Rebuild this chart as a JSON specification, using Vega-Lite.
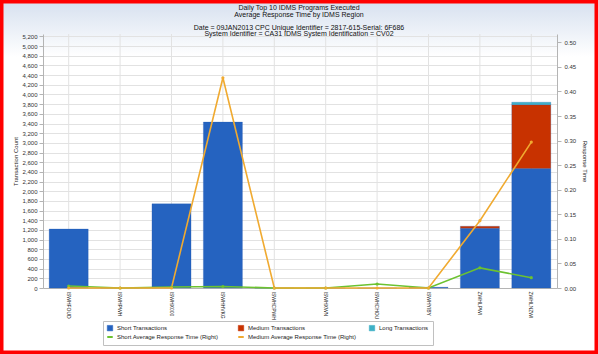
{
  "$schema": "https://vega.github.io/schema/vega-lite/v6.json",
  "width": 598,
  "height": 354,
  "padding": 0,
  "autosize": {"type": "none"},
  "background": "#ffffff",
  "config": {
    "font": "Liberation Sans",
    "view": {
      "stroke": "#ff0000",
      "strokeWidth": 7,
      "fill": {"gradient": "linear", "x1": 0, "y1": 0, "x2": 0, "y2": 1, "stops": [{"offset": 0, "color": "#d6e0ef"}, {"offset": 0.16, "color": "#ffffff"}]}
    },
    "axis": {
      "labelFont": "Liberation Sans",
      "labelFontSize": 6,
      "labelColor": "#333333",
      "titleFont": "Liberation Sans",
      "titleFontSize": 6,
      "titleFontWeight": "normal",
      "titleColor": "#222222",
      "domainColor": "#b4b4b4",
      "tickColor": "#b4b4b4",
      "gridColor": "#e2e2e2",
      "tickSize": 4
    },
    "legend": {
      "title": null,
      "orient": "none",
      "legendX": 103,
      "legendY": 321,
      "direction": "horizontal",
      "columns": 3,
      "gridAlign": "all",
      "columnPadding": 8,
      "rowPadding": 1,
      "labelFontSize": 6,
      "labelColor": "#222222",
      "labelLimit": 200,
      "symbolSize": 30,
      "padding": 4,
      "strokeColor": "#c0c0c0",
      "fillColor": "#ffffff"
    },
    "title": {"font": "Liberation Sans", "fontSize": 7, "fontWeight": "normal", "color": "#111111", "lineHeight": 6.5, "subtitleFont": "Liberation Sans", "subtitleFontSize": 7, "subtitleColor": "#111111", "subtitleLineHeight": 6.5}
  },
  "title": {
    "text": ["Daily Top 10 IDMS Programs Executed", "Average Response Time  by IDMS Region"],
    "subtitle": ["Date = 09JAN2013 CPC Unique Identifier = 2817-615-Serial: 6F686", "System Identifier = CA31  IDMS System Identification = CV02"],
    "anchor": "middle",
    "frame": "group",
    "orient": "top",
    "offset": -37,
    "subtitlePadding": 6
  },
  "datasets": {
    "programs": [
      {"program": "ISWHFOUD"}, {"program": "ISWHPWH"}, {"program": "ISWHX000"}, {"program": "ISWHHVKG"}, {"program": "ISWHCPWH"},
      {"program": "ISWHXWN"}, {"program": "ISWHCHOU"}, {"program": "ISWHYIBY"}, {"program": "ZWHLPWI"}, {"program": "ZWHLNZWI"}
    ],
    "bars": [
      {"program": "ISWHFOUD", "series": "Short Transactions", "ord": 1, "count": 1220},
      {"program": "ISWHPWH", "series": "Short Transactions", "ord": 1, "count": 0},
      {"program": "ISWHX000", "series": "Short Transactions", "ord": 1, "count": 1740},
      {"program": "ISWHHVKG", "series": "Short Transactions", "ord": 1, "count": 3430},
      {"program": "ISWHCPWH", "series": "Short Transactions", "ord": 1, "count": 0},
      {"program": "ISWHXWN", "series": "Short Transactions", "ord": 1, "count": 0},
      {"program": "ISWHCHOU", "series": "Short Transactions", "ord": 1, "count": 0},
      {"program": "ISWHYIBY", "series": "Short Transactions", "ord": 1, "count": 15},
      {"program": "ZWHLPWI", "series": "Short Transactions", "ord": 1, "count": 1235},
      {"program": "ZWHLPWI", "series": "Medium Transactions", "ord": 2, "count": 42},
      {"program": "ZWHLNZWI", "series": "Short Transactions", "ord": 1, "count": 2470},
      {"program": "ZWHLNZWI", "series": "Medium Transactions", "ord": 2, "count": 1320},
      {"program": "ZWHLNZWI", "series": "Long Transactions", "ord": 3, "count": 50}
    ],
    "lines": [
      {"program": "ISWHFOUD", "series": "Short Average Response Time (Right)", "rt": 0.004},
      {"program": "ISWHPWH", "series": "Short Average Response Time (Right)", "rt": 0.0},
      {"program": "ISWHX000", "series": "Short Average Response Time (Right)", "rt": 0.002},
      {"program": "ISWHHVKG", "series": "Short Average Response Time (Right)", "rt": 0.003},
      {"program": "ISWHCPWH", "series": "Short Average Response Time (Right)", "rt": 0.0},
      {"program": "ISWHXWN", "series": "Short Average Response Time (Right)", "rt": 0.0},
      {"program": "ISWHCHOU", "series": "Short Average Response Time (Right)", "rt": 0.008},
      {"program": "ISWHYIBY", "series": "Short Average Response Time (Right)", "rt": 0.0},
      {"program": "ZWHLPWI", "series": "Short Average Response Time (Right)", "rt": 0.041},
      {"program": "ZWHLNZWI", "series": "Short Average Response Time (Right)", "rt": 0.021},
      {"program": "ISWHFOUD", "series": "Medium Average Response Time (Right)", "rt": 0.0},
      {"program": "ISWHPWH", "series": "Medium Average Response Time (Right)", "rt": 0.0},
      {"program": "ISWHX000", "series": "Medium Average Response Time (Right)", "rt": 0.0},
      {"program": "ISWHHVKG", "series": "Medium Average Response Time (Right)", "rt": 0.428},
      {"program": "ISWHCPWH", "series": "Medium Average Response Time (Right)", "rt": 0.0},
      {"program": "ISWHXWN", "series": "Medium Average Response Time (Right)", "rt": 0.0},
      {"program": "ISWHCHOU", "series": "Medium Average Response Time (Right)", "rt": 0.0},
      {"program": "ISWHYIBY", "series": "Medium Average Response Time (Right)", "rt": 0.0},
      {"program": "ZWHLPWI", "series": "Medium Average Response Time (Right)", "rt": 0.137},
      {"program": "ZWHLNZWI", "series": "Medium Average Response Time (Right)", "rt": 0.297}
    ]
  },
  "layer": [
    {
      "layer": [
        {
          "data": {"name": "programs"},
          "mark": {"type": "rule", "color": "#e2e2e2", "strokeWidth": 1},
          "encoding": {
            "x": {
              "field": "program",
              "type": "nominal",
              "sort": ["ISWHFOUD", "ISWHPWH", "ISWHX000", "ISWHHVKG", "ISWHCPWH", "ISWHXWN", "ISWHCHOU", "ISWHYIBY", "ZWHLPWI", "ZWHLNZWI"],
              "scale": {"range": [43, 557], "paddingInner": 0.24, "paddingOuter": 0.12},
              "axis": {"title": null, "offset": -66, "labelAngle": 90, "labelFontSize": 5, "labelColor": "#222222", "labelPadding": 3, "grid": false, "ticks": false}
            },
            "y": {
              "datum": 0,
              "type": "quantitative",
              "scale": {"domain": [0, 5250], "range": [288, 34], "nice": false},
              "axis": {
                "title": "Transaction Count",
                "offset": -43,
                "format": ",d",
                "values": [0, 200, 400, 600, 800, 1000, 1200, 1400, 1600, 1800, 2000, 2200, 2400, 2600, 2800, 3000, 3200, 3400, 3600, 3800, 4000, 4200, 4400, 4600, 4800, 5000, 5200],
                "grid": true,
                "labelPadding": 2,
                "titlePadding": 3
              }
            },
            "y2": {"datum": 5250}
          }
        },
        {
          "data": {"name": "bars"},
          "mark": {"type": "bar", "stroke": "#1f56ad", "strokeWidth": 0.4, "strokeOpacity": 0.6},
          "encoding": {
            "x": {
              "field": "program",
              "type": "nominal",
              "sort": ["ISWHFOUD", "ISWHPWH", "ISWHX000", "ISWHHVKG", "ISWHCPWH", "ISWHXWN", "ISWHCHOU", "ISWHYIBY", "ZWHLPWI", "ZWHLNZWI"],
              "scale": {"range": [43, 557], "paddingInner": 0.24, "paddingOuter": 0.12},
              "axis": {"title": null, "offset": -66, "labelAngle": 90, "labelFontSize": 5, "labelColor": "#222222", "labelPadding": 3, "grid": false, "ticks": false}
            },
            "y": {
              "field": "count",
              "type": "quantitative",
              "stack": "zero",
              "scale": {"domain": [0, 5250], "range": [288, 34], "nice": false},
              "axis": {
                "title": "Transaction Count",
                "offset": -43,
                "format": ",d",
                "values": [0, 200, 400, 600, 800, 1000, 1200, 1400, 1600, 1800, 2000, 2200, 2400, 2600, 2800, 3000, 3200, 3400, 3600, 3800, 4000, 4200, 4400, 4600, 4800, 5000, 5200],
                "grid": true,
                "labelPadding": 2,
                "titlePadding": 3
              }
            },
            "color": {
              "field": "series",
              "type": "nominal",
              "scale": {
                "domain": ["Short Transactions", "Medium Transactions", "Long Transactions", "Short Average Response Time (Right)", "Medium Average Response Time (Right)"],
                "range": ["#2563c0", "#c83200", "#3eb0c6", "#6cc230", "#f0aa30"]
              },
              "legend": {
                "encode": {
                  "symbols": {
                    "update": {
                      "shape": {"signal": "datum.index >= 3 ? 'stroke' : 'square'"},
                      "fill": {"scale": "color", "field": "value"},
                      "stroke": {"scale": "color", "field": "value"},
                      "strokeWidth": {"signal": "datum.index >= 3 ? 2 : 0.5"}
                    }
                  }
                }
              }
            },
            "order": {"field": "ord", "type": "quantitative"}
          }
        }
      ]
    },
    {
      "data": {"name": "lines"},
      "mark": {"type": "line", "strokeWidth": 1.6, "point": {"filled": true, "size": 10}},
      "encoding": {
        "x": {
          "field": "program",
          "type": "nominal",
          "sort": ["ISWHFOUD", "ISWHPWH", "ISWHX000", "ISWHHVKG", "ISWHCPWH", "ISWHXWN", "ISWHCHOU", "ISWHYIBY", "ZWHLPWI", "ZWHLNZWI"],
          "scale": {"range": [43, 557], "paddingInner": 0.24, "paddingOuter": 0.12},
          "axis": {"title": null, "offset": -66, "labelAngle": 90, "labelFontSize": 5, "labelColor": "#222222", "labelPadding": 3, "grid": false, "ticks": false}
        },
        "y": {
          "field": "rt",
          "type": "quantitative",
          "scale": {"domain": [0, 0.517], "range": [288, 34], "nice": false},
          "axis": {
            "orient": "right",
            "title": "Response Time",
            "titleAngle": 90,
            "offset": -41,
            "format": ".2f",
            "values": [0, 0.05, 0.1, 0.15, 0.2, 0.25, 0.3, 0.35, 0.4, 0.45, 0.5],
            "grid": false,
            "labelPadding": 3,
            "titlePadding": 6
          }
        },
        "color": {
          "field": "series",
          "type": "nominal",
          "legend": {
            "encode": {
              "symbols": {
                "update": {
                  "shape": {"signal": "datum.index >= 3 ? 'stroke' : 'square'"},
                  "fill": {"scale": "color", "field": "value"},
                  "stroke": {"scale": "color", "field": "value"},
                  "strokeWidth": {"signal": "datum.index >= 3 ? 2 : 0.5"}
                }
              }
            }
          }
        }
      }
    }
  ],
  "resolve": {"scale": {"y": "independent"}}
}
